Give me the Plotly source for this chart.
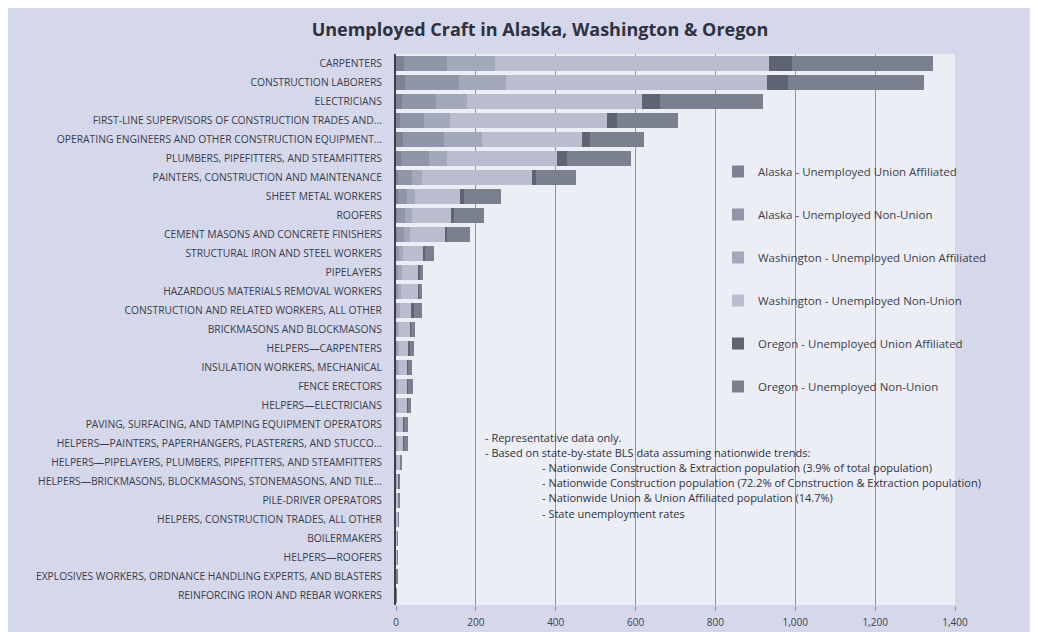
import plotly.graph_objects as go

categories = [
    "CARPENTERS", "CONSTRUCTION LABORERS", "ELECTRICIANS",
    "FIRST-LINE SUPERVISORS OF CONSTRUCTION TRADES AND...",
    "OPERATING ENGINEERS AND OTHER CONSTRUCTION EQUIPMENT...",
    "PLUMBERS, PIPEFITTERS, AND STEAMFITTERS",
    "PAINTERS, CONSTRUCTION AND MAINTENANCE", "SHEET METAL WORKERS", "ROOFERS",
    "CEMENT MASONS AND CONCRETE FINISHERS", "STRUCTURAL IRON AND STEEL WORKERS",
    "PIPELAYERS", "HAZARDOUS MATERIALS REMOVAL WORKERS",
    "CONSTRUCTION AND RELATED WORKERS, ALL OTHER", "BRICKMASONS AND BLOCKMASONS",
    "HELPERS\u2014CARPENTERS", "INSULATION WORKERS, MECHANICAL", "FENCE ERECTORS",
    "HELPERS\u2014ELECTRICIANS", "PAVING, SURFACING, AND TAMPING EQUIPMENT OPERATORS",
    "HELPERS\u2014PAINTERS, PAPERHANGERS, PLASTERERS, AND STUCCO...",
    "HELPERS\u2014PIPELAYERS, PLUMBERS, PIPEFITTERS, AND STEAMFITTERS",
    "HELPERS\u2014BRICKMASONS, BLOCKMASONS, STONEMASONS, AND TILE...",
    "PILE-DRIVER OPERATORS", "HELPERS, CONSTRUCTION TRADES, ALL OTHER",
    "BOILERMAKERS", "HELPERS\u2014ROOFERS",
    "EXPLOSIVES WORKERS, ORDNANCE HANDLING EXPERTS, AND BLASTERS",
    "REINFORCING IRON AND REBAR WORKERS",
]

alaska_union = [19, 23, 15, 10, 18, 12, 6, 4, 3, 3, 1, 1, 1, 1, 0.5, 0.5, 0.5, 0.4, 0.4, 0.3,
                0.2, 0.2, 0.1, 0.1, 0.1, 0.1, 0.1, 0.1, 0.1]
alaska_nonunion = [109, 136, 86, 59, 102, 70, 34, 24, 20, 16, 7, 5, 4, 3, 2.5, 2.5, 2.5, 1.6, 1.6, 1.7,
                   0.8, 0.8, 0.4, 0.4, 0.4, 0.3, 0.2, 0.2, 0.1]
washington_union = [120, 116, 76, 67, 96, 46, 25, 20, 17, 15, 9, 8, 8, 5, 5, 4, 4, 4, 4, 3,
                    3, 1.5, 1, 0.8, 0.7, 0.6, 0.5, 0.4, 0.3]
washington_nonunion = [685, 654, 439, 392, 250, 275, 276, 113, 98, 88, 52, 43, 44, 31, 28, 25, 21, 22, 22, 15,
                       16, 8.5, 6, 4.2, 3.8, 2.8, 2.2, 1.6, 1.0]
oregon_union = [58, 53, 44, 25, 21, 25, 10, 9, 7, 6, 4, 2, 1, 4, 2, 2, 2, 2, 1, 1,
                1, 1, 0.5, 0.5, 0.4, 0.3, 0.2, 0.1, 0.1]
oregon_nonunion = [354, 340, 259, 153, 133, 161, 100, 94, 75, 58, 21, 8, 7, 21, 10, 10, 10, 12, 9, 9,
                   9, 3, 2, 2, 1.6, 0.9, 0.9, 0.6, 0.4]

series_names = [
    "Alaska - Unemployed Union Affiliated",
    "Alaska - Unemployed Non-Union",
    "Washington - Unemployed Union Affiliated",
    "Washington - Unemployed Non-Union",
    "Oregon - Unemployed Union Affiliated",
    "Oregon - Unemployed Non-Union",
]
series_values = [alaska_union, alaska_nonunion, washington_union,
                 washington_nonunion, oregon_union, oregon_nonunion]
series_colors = ["#7e8394", "#9095a7", "#a3a8ba", "#b9bdce", "#5e6472", "#7b808e"]

tick_values = [0, 200, 400, 600, 800, 1000, 1200, 1400]
tick_labels = ["0", "200", "400", "600", "800", "1,000", "1,200", "1,400"]

note_lines = [
    "- Representative data only.",
    "- Based on state-by-state BLS data assuming nationwide trends:",
    "- Nationwide Construction & Extraction population (3.9% of total population)",
    "- Nationwide Construction population (72.2% of Construction & Extraction population)",
    "- Nationwide Union & Union Affiliated population (14.7%)",
    "- State unemployment rates",
]
note_indent = [0, 0, 1, 1, 1, 1]

FONT = "'Open Sans', sans-serif"
TXT = "#3a3d4c"

# figure sits at an 8px offset inside the page
W, H = 1030, 624
ML, MR, MT, MB = 388, 83, 46, 27
PW, PH = W - ML - MR, H - MT - MB


def px_x(sx):
    return (sx - 8 - ML) / PW


def px_y(sy):
    return 1 - (sy - 8 - MT) / PH


fig = go.Figure()
for name, vals, col in zip(series_names, series_values, series_colors):
    fig.add_trace(go.Bar(
        y=categories, x=vals, name=name, orientation="h",
        marker=dict(color=col, line=dict(width=0)),
        legendgroup=name,
    ))

fig.update_layout(
    width=W, height=H,
    margin=dict(l=ML, r=MR, t=MT, b=MB),
    barmode="stack", bargap=0.2,
    paper_bgcolor="#d5d8ea", plot_bgcolor="#eceef6",
    font=dict(family=FONT, color=TXT),
    title=dict(text="<b>Unemployed Craft in Alaska, Washington &amp; Oregon</b>",
               x=(540 - 8) / W, xanchor="center", y=1 - (30 - 8) / H, yanchor="middle",
               font=dict(size=18, color="#2e3140", family=FONT)),
    showlegend=True,
    legend=dict(x=px_x(718), xanchor="left", y=px_y(157), yanchor="top",
                traceorder="grouped", tracegroupgap=24,
                bgcolor="rgba(0,0,0,0)", font=dict(size=11.5, color=TXT),
                itemwidth=30),
    xaxis=dict(range=[0, 1400], tickvals=tick_values, ticktext=tick_labels,
               showgrid=True, gridcolor="#8e92a8", gridwidth=1,
               zeroline=False, ticks="outside", ticklen=5, tickcolor="#8e92a8",
               ticklabelstandoff=3, automargin=False,
               tickfont=dict(size=10, color=TXT), showline=False),
    yaxis=dict(categoryorder="array", categoryarray=categories, autorange="reversed",
               showline=True, linecolor="#3c3f4c", linewidth=2, automargin=False,
               tickfont=dict(size=10.3, color=TXT), ticks="", ticklabelstandoff=10),
)

for i, (line, ind) in enumerate(zip(note_lines, note_indent)):
    fig.add_annotation(
        xref="paper", yref="paper", x=px_x(540 if ind else 483), y=px_y(437 + i * 15.2),
        xanchor="left", yanchor="middle", align="left", showarrow=False,
        text=line, font=dict(size=11, color="#2e3140", family=FONT),
    )

fig.write_html("out.html")
